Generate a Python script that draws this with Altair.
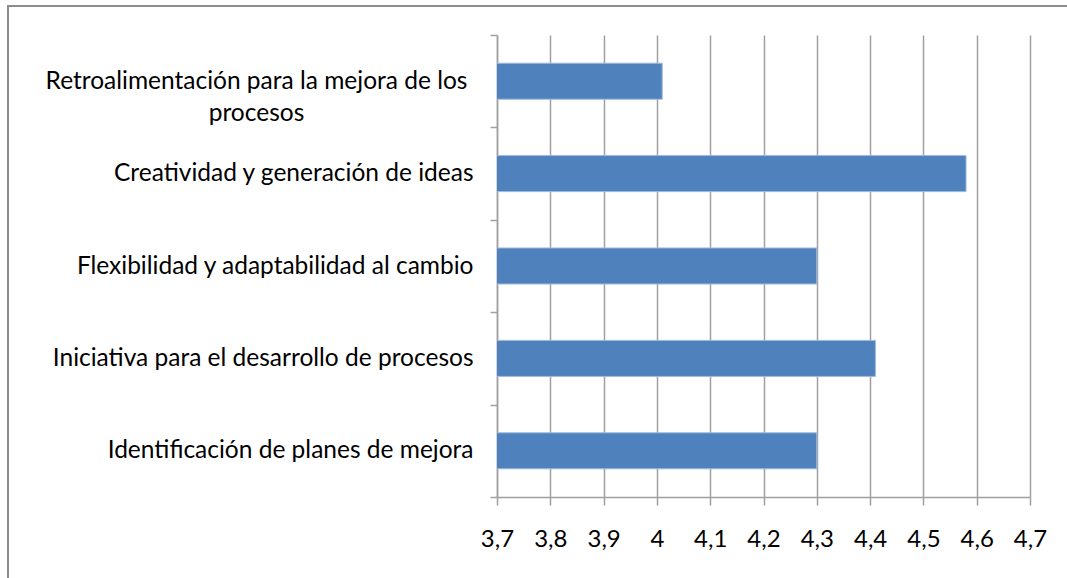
import altair as alt
import pandas as pd

categories = [
    "Retroalimentación para la mejora de los|procesos",
    "Creatividad y generación de ideas",
    "Flexibilidad y adaptabilidad al cambio",
    "Iniciativa para el desarrollo de procesos ",
    "Identificación de planes de mejora",
]
values = [4.01, 4.58, 4.30, 4.41, 4.30]
x_ticks = [3.7, 3.8, 3.9, 4.0, 4.1, 4.2, 4.3, 4.4, 4.5, 4.6, 4.7]

df = pd.DataFrame({"cat": categories, "val": values})

FONT = "Lato"
GRID = "#a0a0a0"

bars = alt.Chart(df).mark_bar(
    color="#4F81BD", stroke="#9dbbe0", strokeWidth=1, clip=True,
    height=alt.RelativeBandSize(band=0.39),
).encode(
    x=alt.X(
        "val:Q",
        scale=alt.Scale(domain=[3.7, 4.7], zero=False, nice=False),
        axis=alt.Axis(
            values=x_ticks,
            format=".1~f",
            labelExpr="replace(datum.label, '.', ',')",
            title=None,
            grid=True,
            gridColor=GRID,
            gridWidth=1.5,
            domainColor=GRID,
            domainWidth=1.5,
            tickColor=GRID,
            tickWidth=1.5,
            tickSize=8,
            labelPadding=22,
            labelFont=FONT,
            labelFontSize=24,
            labelColor="#000000",
            labelFlush=False,
        ),
    ),
    y=alt.Y(
        "cat:N",
        sort=categories,
        scale=alt.Scale(paddingInner=0, paddingOuter=0),
        axis=alt.Axis(
            title=None,
            labelExpr="split(datum.label, '|')",
            tickBand="extent",
            tickSize=7,
            tickColor=GRID,
            tickWidth=1.5,
            domainColor=GRID,
            domainWidth=1.5,
            labelFont=FONT,
            labelFontSize=24.5,
            labelColor="#000000",
            labelLimit=600,
            labelLineHeight=32,
            labelAlign=alt.condition(
                "datum.value == '" + categories[0] + "'",
                alt.value("center"),
                alt.value("right"),
            ),
            labelPadding=alt.condition(
                "datum.value == '" + categories[0] + "'",
                alt.value(234),
                alt.value(17),
            ),
        ),
    ),
)

frame = alt.Chart(pd.DataFrame({"k": [0]})).mark_rect(
    fill=None, stroke="#8c8c8c", strokeWidth=2, clip=False
).encode(
    x=alt.value(-489), x2=alt.value(600), y=alt.value(-29), y2=alt.value(600)
)

chart = alt.layer(frame, bars).properties(
    width=533,
    height=462,
    padding={"left": 497, "top": 35, "right": 37, "bottom": 81},
    autosize=alt.AutoSizeParams(type="none"),
    background="white",
).configure_view(stroke=None)

chart.save("out.html", embed_options={"renderer": "svg", "actions": False})
